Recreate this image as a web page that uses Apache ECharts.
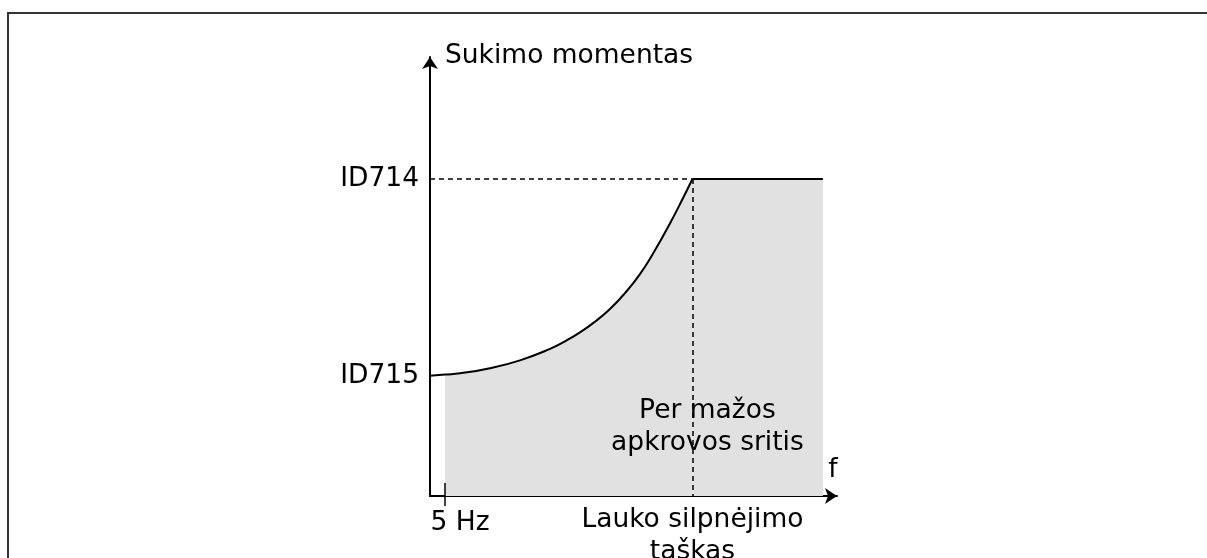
<!DOCTYPE html>
<html>
<head>
<meta charset="utf-8">
<script src="https://cdn.jsdelivr.net/npm/echarts@6/dist/echarts.min.js"></script>
<style>
  html, body { margin: 0; padding: 0; background: #fff; }
  body { width: 1207px; height: 558px; overflow: hidden; position: relative; }
  #frame { position: absolute; left: 7px; top: 12px; width: 1400px; height: 800px;
           border-left: 2px solid #333; border-top: 2px solid #333; }
  #chart { position: absolute; left: 0; top: 0; width: 1207px; height: 558px; }
</style>
</head>
<body>
<div id="frame"></div>
<div id="chart"></div>
<script>
  // axis ranges (f, torque)
  var fMax = 135.7;
  var torqueMax = 138.5;

  // torque limit curve, rising part (f, torque)
  var curveX = [0, 5, 10, 20, 30, 40, 45, 50, 55, 60, 65, 70, 75, 80, 84, 87.5];
  var curveY = [37.9, 38.3, 38.7, 40.3, 42.8, 46.4, 48.8, 51.6, 55.0, 59.0, 64.0, 70.0, 77.5, 86.0, 93.3, 100];
  // flat part after field weakening point
  var flatX = [87.5, 131];
  var flatY = [100, 100];

  var minFreq = 5;          // 5 Hz
  var weakPoint = 87.5;     // lauko silpnejimo taskas
  var idValues = [37.9, 100];
  var idLabels = ['ID715', 'ID714'];
  var xTickValues = [minFreq, weakPoint];
  var xTickLabels = ['5 Hz', 'Lauko silpnėjimo\ntaškas'];
  var areaText = 'Per mažos\napkrovos sritis';
  var areaTextPos = [92.5, 21.8];

  function zip(xs, ys) {
    var out = [];
    for (var i = 0; i < xs.length; i++) out.push([xs[i], ys[i]]);
    return out;
  }

  var curveData = zip(curveX, curveY);
  var areaCurveData = curveData.slice(1); // shading starts at 5 Hz
  var flatData = zip(flatX, flatY);

  var font = 'DejaVu Sans';
  var shade = '#e1e1e1';

  var option = {
    animation: false,
    textStyle: { fontFamily: font },
    grid: { left: 430, top: 57, right: 370, bottom: 62, containLabel: false, outerBoundsMode: 'none' },
    xAxis: {
      type: 'value',
      min: 0,
      max: fMax,
      name: 'f',
      nameLocation: 'end',
      nameGap: -4,
      nameTextStyle: { fontFamily: font, fontSize: 26.5, color: '#000', align: 'center',
                       verticalAlign: 'bottom', padding: [0, 0, 12, 0] },
      axisLine: { show: true, symbol: ['none', 'arrow'], symbolSize: [12, 12],
                  lineStyle: { color: '#000', width: 2 } },
      axisTick: { show: true, customValues: [minFreq], length: 10, inside: false,
                  lineStyle: { color: '#000', width: 1.5 } },
      axisLabel: {
        customValues: xTickValues,
        margin: 8,
        color: '#000',
        formatter: function (v) {
          return v === minFreq ? '{hz|' + xTickLabels[0] + '}' : '{pt|' + xTickLabels[1] + '}';
        },
        rich: {
          hz: { fontFamily: font, fontSize: 26.5, lineHeight: 32, color: '#000', padding: [7, 0, 0, 30] },
          pt: { fontFamily: font, fontSize: 26.5, lineHeight: 32, color: '#000' }
        }
      },
      splitLine: { show: false }
    },
    yAxis: {
      type: 'value',
      min: 0,
      max: torqueMax,
      name: 'Sukimo momentas',
      nameLocation: 'end',
      nameGap: 1,
      nameTextStyle: { fontFamily: font, fontSize: 26.5, color: '#000', align: 'left',
                       verticalAlign: 'middle', padding: [0, 0, 0, 15] },
      axisLine: { show: true, symbol: ['none', 'arrow'], symbolSize: [12, 12],
                  lineStyle: { color: '#000', width: 2 } },
      axisTick: { show: false },
      axisLabel: {
        customValues: idValues,
        margin: 11,
        fontFamily: font,
        fontSize: 26.5,
        color: '#000',
        formatter: function (v) {
          return idLabels[idValues.indexOf(v)];
        }
      },
      splitLine: { show: false }
    },
    series: [
      {
        name: 'area-curve',
        type: 'line',
        data: areaCurveData,
        smooth: 0.5,
        symbol: 'none',
        lineStyle: { width: 0 },
        areaStyle: { color: shade, opacity: 1 },
        z: 1
      },
      {
        name: 'area-flat',
        type: 'line',
        data: flatData,
        symbol: 'none',
        lineStyle: { width: 0 },
        areaStyle: { color: shade, opacity: 1 },
        z: 1,
        markPoint: {
          symbol: 'circle',
          symbolSize: 0,
          silent: true,
          label: { show: true, position: 'inside', fontFamily: font, fontSize: 26.5,
                   lineHeight: 32, color: '#000', formatter: areaText },
          data: [{ coord: areaTextPos }]
        }
      },
      {
        name: 'curve',
        type: 'line',
        data: curveData,
        smooth: 0.5,
        symbol: 'none',
        lineStyle: { color: '#000', width: 2 },
        z: 3
      },
      {
        name: 'flat',
        type: 'line',
        data: flatData,
        symbol: 'none',
        lineStyle: { color: '#000', width: 2 },
        z: 3,
        markLine: {
          silent: true,
          symbol: ['none', 'none'],
          label: { show: false },
          lineStyle: { color: '#000', width: 1.5, type: [5, 4] },
          data: [
            [{ coord: [0, 100] }, { coord: [weakPoint, 100] }],
            [{ coord: [weakPoint, 100] }, { coord: [weakPoint, 0] }],
            [{ coord: [minFreq, 0], lineStyle: { type: 'solid', width: 1.5 } },
             { coord: [minFreq, 4.1] }]
          ]
        }
      }
    ]
  };

  var chart = echarts.init(document.getElementById('chart'));
  chart.setOption(option);
</script>
</body>
</html>
